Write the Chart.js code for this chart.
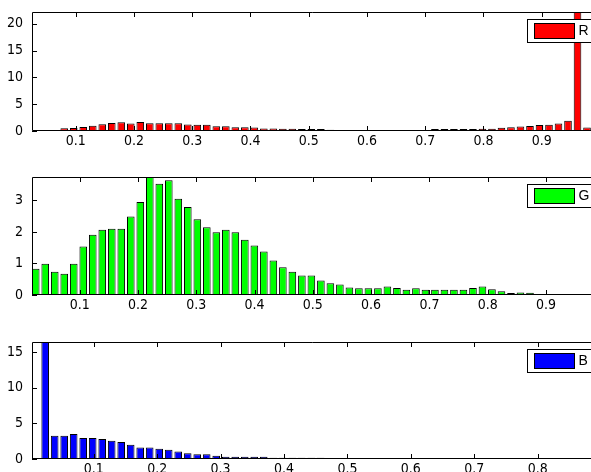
<!DOCTYPE html>
<html>
<head>
<meta charset="utf-8">
<script src="https://cdn.jsdelivr.net/npm/chart.js@4/dist/chart.umd.min.js"></script>
<style>
  html, body { margin: 0; padding: 0; background: #fff; overflow: hidden; }
  body { width: 591px; height: 472px; position: relative; }
  canvas { position: absolute; left: 0; }
</style>
</head>
<body>
<canvas id="redChart" width="591" height="160" style="top:0px"></canvas>
<canvas id="greenChart" width="591" height="160" style="top:160px"></canvas>
<canvas id="blueChart" width="591" height="152" style="top:320px"></canvas>
<script>
/*** Histogram counts, 60 bins per channel ***/
const redCounts = [
    0.1, 0.15, 0.2, 0.5, 0.55, 0.75, 1.0, 1.25, 1.5, 1.65,
    1.4, 1.7, 1.45, 1.45, 1.45, 1.45, 1.2, 1.15, 1.15, 0.9,
    0.9, 0.7, 0.7, 0.65, 0.45, 0.45, 0.4, 0.4, 0.35, 0.35,
    0.35, 0.25, 0.05, 0.1, 0.05, 0.08, 0.05, 0.1, 0.05, 0.05,
    0.08, 0.1, 0.35, 0.35, 0.35, 0.35, 0.35, 0.4, 0.4, 0.6,
    0.7, 0.85, 0.95, 1.1, 1.15, 1.4, 1.9, 30, 0.65, 0.3
];
const greenCounts = [
    0.83, 0.99, 0.74, 0.67, 0.99, 1.54, 1.91, 2.07, 2.1, 2.1,
    2.49, 2.95, 3.9, 3.53, 3.64, 3.05, 2.79, 2.4, 2.15, 1.99,
    2.07, 1.99, 1.75, 1.57, 1.38, 1.09, 0.88, 0.74, 0.62, 0.62,
    0.46, 0.37, 0.33, 0.24, 0.21, 0.21, 0.21, 0.27, 0.22, 0.17,
    0.21, 0.17, 0.17, 0.17, 0.17, 0.17, 0.22, 0.27, 0.18, 0.12,
    0.06, 0.08, 0.07, 0.03, 0.02, 0.02, 0.02, 0.02, 0.02, 0.02
];
const blueCounts = [
    0.14, 18, 3.27, 3.27, 3.5, 2.94, 2.94, 2.8, 2.56, 2.37,
    1.99, 1.61, 1.61, 1.42, 1.28, 1.04, 0.8, 0.66, 0.66, 0.47,
    0.33, 0.33, 0.33, 0.33, 0.33, 0.19, 0.19, 0.19, 0.19, 0.19,
    0.19, 0.04, 0.04, 0.04, 0.04, 0.04, 0.04, 0.04, 0.04, 0.04,
    0.04, 0.04, 0.04, 0.04, 0.04, 0.04, 0.04, 0.04, 0.04, 0.04,
    0.04, 0.04, 0.04, 0.04, 0.04, 0.04, 0.04, 0.04, 0.04, 0.04
];

/*** Bins (centre of first bin, bin width) and axis limits ***/
const redBins = [0.0313, 0.01632];
const greenBins = [0.0245, 0.01631];
const blueBins = [0.0085, 0.01498];

const redXRange = [0.0249, 0.9847];
const greenXRange = [0.0181, 0.9773];
const blueXRange = [0.0027, 0.884];

const redYMax = 22.2;
const greenYMax = 3.74;
const blueYMax = 16.4;

/*** Tick labels ***/
const redXTicks = [0.1, 0.2, 0.3, 0.4, 0.5, 0.6, 0.7, 0.8, 0.9];
const greenXTicks = [0.1, 0.2, 0.3, 0.4, 0.5, 0.6, 0.7, 0.8, 0.9];
const blueXTicks = [0.1, 0.2, 0.3, 0.4, 0.5, 0.6, 0.7, 0.8];
const redYTicks = [0, 5, 10, 15, 20];
const greenYTicks = [0, 1, 2, 3];
const blueYTicks = [0, 5, 10, 15];

/*** Font ***/
const tickFont = { family: "'Liberation Sans Narrow', 'DejaVu Sans Condensed', 'Liberation Sans', sans-serif", size: 14 };

/*** Axes box, inward ticks and legend, drawn like the original figure ***/
const matlabFrame = {
    id: 'matlabFrame',
    afterDatasetsDraw(chart, args, opts) {
        const ctx = chart.ctx;
        const a = chart.chartArea;
        const x = chart.scales.x;
        const y = chart.scales.y;
        ctx.save();
        ctx.strokeStyle = '#000';
        ctx.lineWidth = 1;
        ctx.beginPath();
        ctx.moveTo(a.right + 2, a.top + 0.5);
        ctx.lineTo(a.left + 0.5, a.top + 0.5);
        ctx.lineTo(a.left + 0.5, a.bottom - 0.5);
        ctx.lineTo(a.right + 2, a.bottom - 0.5);
        x.ticks.forEach(function (t) {
            const px = Math.round(x.getPixelForValue(t.value)) + 0.5;
            ctx.moveTo(px, a.bottom);
            ctx.lineTo(px, a.bottom - 5);
            ctx.moveTo(px, a.top);
            ctx.lineTo(px, a.top + 5);
        });
        y.ticks.forEach(function (t) {
            const py = Math.round(y.getPixelForValue(t.value)) + 0.5;
            ctx.moveTo(a.left, py);
            ctx.lineTo(a.left + 5, py);
        });
        ctx.stroke();

        // legend (cut by the right edge of the picture)
        const bx = 527.5, by = a.top + 7.5;
        ctx.fillStyle = '#fff';
        ctx.fillRect(bx, by, 80, 23);
        ctx.strokeRect(bx, by, 80, 23);
        ctx.fillStyle = opts.color;
        ctx.fillRect(bx + 7, by + 4, 40, 15);
        ctx.strokeRect(bx + 7, by + 4, 40, 15);
        ctx.fillStyle = '#000';
        ctx.font = "14px 'Liberation Sans', sans-serif";
        ctx.textBaseline = 'middle';
        ctx.fillText(opts.label, bx + 51, by + 12);
        ctx.restore();
    }
};

/*** Draw one histogram panel ***/
function drawHistogram(canvasId, label, color, counts, bins, xRange, yMax, xTicks, yTicks, padTop, xAxisHeight) {
    const points = counts.map(function (c, i) {
        return { x: bins[0] + i * bins[1], y: c };
    });
    return new Chart(document.getElementById(canvasId), {
        type: 'bar',
        data: {
            datasets: [
                {
                    label: label,
                    data: points,
                    backgroundColor: color,
                    borderColor: '#000',
                    borderWidth: 1,
                    borderSkipped: false,
                    barPercentage: 0.8,
                    categoryPercentage: 1.0
                }
            ]
        },
        options: {
            responsive: false,
            animation: false,
            events: [],
            layout: {
                padding: { top: padTop, left: 0, right: 0, bottom: 0 }
            },
            plugins: {
                legend: { display: false },
                tooltip: { enabled: false },
                matlabFrame: { color: color, label: label }
            },
            scales: {
                x: {
                    type: 'linear',
                    offset: false,
                    min: xRange[0],
                    max: xRange[1],
                    grid: { display: false, drawTicks: false, offset: false },
                    border: { display: false },
                    afterBuildTicks: function (scale) {
                        scale.ticks = xTicks.map(function (v) { return { value: v }; });
                    },
                    afterFit: function (scale) {
                        scale.height = xAxisHeight;
                        scale.paddingLeft = 0;
                        scale.paddingRight = 0;
                    },
                    ticks: {
                        color: '#000',
                        font: tickFont,
                        padding: 2,
                        maxRotation: 0,
                        autoSkip: false
                    }
                },
                y: {
                    min: 0,
                    max: yMax,
                    grid: { display: false, drawTicks: false },
                    border: { display: false },
                    afterBuildTicks: function (scale) {
                        scale.ticks = yTicks.map(function (v) { return { value: v }; });
                    },
                    afterFit: function (scale) {
                        scale.width = 32;
                        scale.paddingTop = 0;
                        scale.paddingBottom = 0;
                    },
                    ticks: {
                        color: '#000',
                        font: tickFont,
                        padding: 9,
                        autoSkip: false
                    }
                }
            }
        },
        plugins: [matlabFrame]
    });
}

/*** Charts ***/
drawHistogram('redChart', 'R', '#ff0000', redCounts, redBins, redXRange, redYMax, redXTicks, redYTicks, 12, 29);
drawHistogram('greenChart', 'G', '#00ff00', greenCounts, greenBins, greenXRange, greenYMax, greenXTicks, greenYTicks, 17, 25);
drawHistogram('blueChart', 'B', '#0000ff', blueCounts, blueBins, blueXRange, blueYMax, blueXTicks, blueYTicks, 22, 13);
</script>
</body>
</html>
